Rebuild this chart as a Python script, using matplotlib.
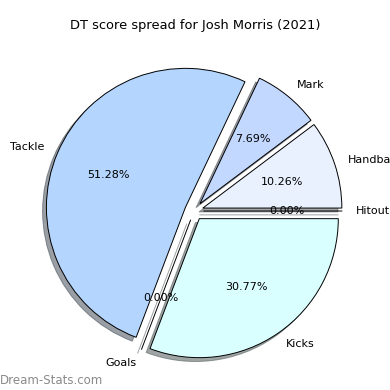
import matplotlib
matplotlib.use("Agg")
from matplotlib import pyplot as plt

# DT score spread data
categories = ["Hitout", "Handball", "Mark", "Tackle", "Goals", "Kicks"]
scores = [0, 4, 3, 20, 0, 12]
colours = ["#dde8ff", "#eaf1fe", "#c3d8ff", "#b4d5fe", "#c8e6ff", "#d9ffff"]
explode = [0.067] * len(categories)

player = "Josh Morris"
season = 2021

W = H = 390
cx, cy, r = 194, 211, 139  # pie centre and radius in pixels

fig = plt.figure(figsize=(3.9, 3.9), dpi=100)
ax = fig.add_axes([0, 0, 1, 1])

ax.pie(scores, labels=categories, colors=colours, explode=explode,
       autopct="%.2f%%", startangle=0, shadow=True,
       wedgeprops={"edgecolor": "black", "linewidth": 0.7},
       textprops={"fontsize": 8})

ax.set_xlim(-cx / r, (W - cx) / r)
ax.set_ylim(-(H - cy) / r, cy / r)
ax.set_aspect("equal")
ax.axis("off")

fig.text(0.5, 1 - 25 / H, f"DT score spread for {player} ({season})",
         ha="center", va="center", fontsize=9.4)
fig.text(0.0, 1 - 380 / H, "Dream-Stats.com", ha="left", va="center",
         fontsize=8.5, color="#8a8a8a")

plt.savefig("out.png", dpi=100)
